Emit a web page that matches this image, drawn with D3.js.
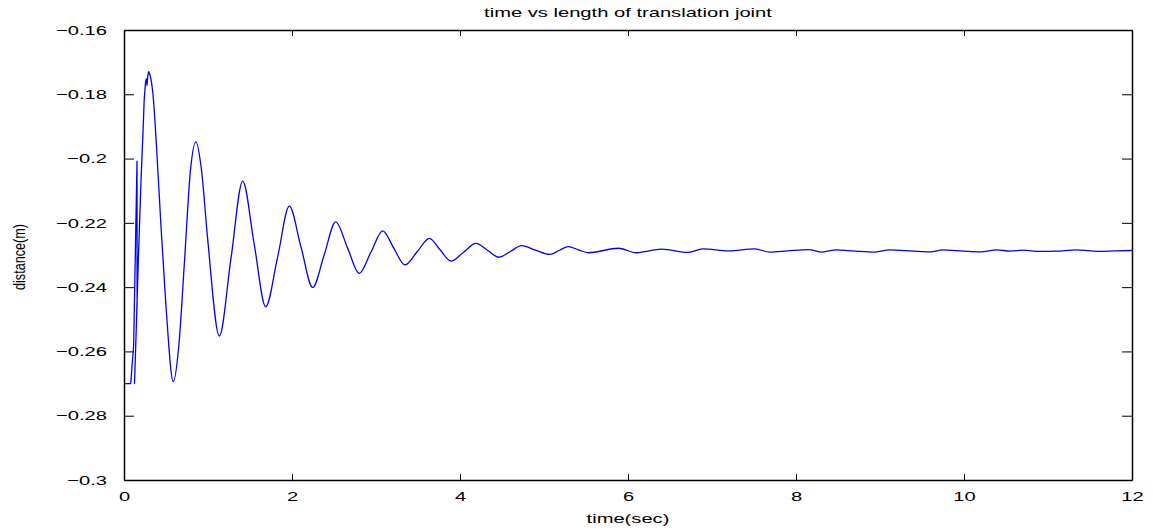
<!DOCTYPE html>
<html><head><meta charset="utf-8">
<script src="https://cdn.jsdelivr.net/npm/d3@7"></script>
<style>body{margin:0;background:#fff}svg{display:block}text{font-family:"Liberation Sans",Arial,sans-serif;fill:#000}</style>
</head><body>
<svg id="c" width="1153" height="529"></svg>
<script>
// --- data ---
const title = "time vs length of translation joint";
const xLabel = "time(sec)";
const yLabel = "distance(m)";
const xTicks = [0, 2, 4, 6, 8, 10, 12];
const yTicks = [-0.3, -0.28, -0.26, -0.24, -0.22, -0.2, -0.18, -0.16];

// start-up transient (drawn with straight segments)
const startTime = [0, 0.08, 0.115, 0.155, 0.156, 0.125, 0.14, 0.17, 0.205, 0.226, 0.24, 0.255, 0.265, 0.274, 0.282, 0.294];
const startDist = [-0.27, -0.27, -0.258, -0.2008, -0.245, -0.27, -0.258, -0.232, -0.205, -0.192, -0.182, -0.1765, -0.1752, -0.1772, -0.1745, -0.1729];

// damped response (smooth)
const respTime = [0.294, 0.315, 0.345, 0.39, 0.44, 0.50, 0.587, 0.65, 0.72, 0.79, 0.857, 0.92, 0.996, 1.135, 1.274, 1.413, 1.55, 1.687, 1.83, 1.968, 2.107, 2.246, 2.383, 2.52, 2.66, 2.80, 2.94, 3.08, 3.21, 3.345, 3.49, 3.635, 3.76, 3.893, 4.04, 4.19, 4.33, 4.464, 4.6, 4.734, 4.9, 5.07, 5.18, 5.29, 5.41, 5.53, 5.885, 6.10, 6.4, 6.72, 6.89, 7.2, 7.51, 7.69, 7.9, 8.15, 8.31, 8.48, 8.7, 8.94, 9.12, 9.4, 9.6, 9.75, 10.0, 10.2, 10.39, 10.55, 10.7, 10.9, 11.1, 11.34, 11.6, 11.8, 12];
const respDist = [-0.1729, -0.1745, -0.1800, -0.1975, -0.221, -0.2460, -0.2694, -0.259, -0.232, -0.204, -0.1948, -0.203, -0.225, -0.2552, -0.231, -0.2070, -0.2266, -0.2461, -0.2305, -0.2148, -0.2275, -0.2401, -0.2300, -0.2197, -0.2277, -0.2357, -0.2291, -0.2225, -0.2278, -0.2331, -0.2290, -0.2248, -0.2283, -0.2319, -0.2292, -0.2264, -0.2286, -0.2307, -0.2289, -0.2271, -0.2285, -0.2298, -0.2286, -0.2274, -0.2284, -0.2293, -0.2279, -0.2293, -0.2282, -0.2292, -0.2281, -0.2287, -0.2281, -0.2291, -0.2287, -0.2283, -0.2291, -0.2284, -0.2288, -0.2291, -0.2284, -0.2288, -0.2290, -0.2284, -0.2288, -0.2290, -0.2284, -0.2288, -0.2285, -0.2289, -0.2288, -0.2284, -0.2289, -0.2287, -0.2286];

// --- layout ---
const L = 124, R = 1132, T = 30, B = 480;
const STRETCH = 1.55;
const svg = d3.select("#c");
const x = d3.scaleLinear().domain([0, 12]).range([L, R]);
const y = d3.scaleLinear().domain([-0.3, -0.16]).range([B, T]);
const fmtY = d => String(+d.toFixed(2)).replace("-", "\u2212");

function stretch(sel) {
  sel.each(function () {
    const w = this.getComputedTextLength();
    d3.select(this).attr("textLength", w * STRETCH).attr("lengthAdjust", "spacingAndGlyphs");
  });
}

// data lines
svg.append("clipPath").attr("id", "pc").append("rect")
  .attr("x", L).attr("y", T).attr("width", R - L).attr("height", B - T);
const g = svg.append("g").attr("clip-path", "url(#pc)");
const startPts = startTime.map((t, i) => [t, startDist[i]]);
const respPts = respTime.map((t, i) => [t, respDist[i]]);
g.append("path").datum(startPts)
  .attr("d", d3.line().x(d => x(d[0])).y(d => y(d[1])))
  .attr("fill", "none").attr("stroke", "#0000ff").attr("stroke-width", 1.3).attr("stroke-linejoin", "round");
g.append("path").datum(respPts)
  .attr("d", d3.line().x(d => x(d[0])).y(d => y(d[1])).curve(d3.curveMonotoneX))
  .attr("fill", "none").attr("stroke", "#0000ff").attr("stroke-width", 1.3);

// axes (ticks inward, box)
const axB = svg.append("g").attr("transform", `translate(0,${B})`)
  .call(d3.axisBottom(x).tickValues(xTicks).tickSizeInner(-6).tickSizeOuter(0).tickPadding(12).tickFormat(d3.format("d")));
const axT = svg.append("g").attr("transform", `translate(0,${T})`)
  .call(d3.axisTop(x).tickValues(xTicks).tickSizeInner(-6).tickSizeOuter(0).tickFormat(""));
const axL = svg.append("g").attr("transform", `translate(${L},0)`)
  .call(d3.axisLeft(y).tickValues(yTicks).tickSizeInner(-10).tickSizeOuter(0).tickPadding(17).tickFormat(fmtY));
const axR = svg.append("g").attr("transform", `translate(${R},0)`)
  .call(d3.axisRight(y).tickValues(yTicks).tickSizeInner(-10).tickSizeOuter(0).tickFormat(""));
[axB, axT, axL, axR].forEach(a => {
  a.select(".domain").attr("stroke", "#000").attr("stroke-width", 1.5);
  a.selectAll(".tick line").attr("stroke", "#000").attr("stroke-width", 1);
  a.selectAll("text").attr("font-size", 13).attr("font-family", "Liberation Sans, Arial, sans-serif").attr("fill", "#000");
});
axB.selectAll(".tick text").attr("dy", "0.71em").call(stretch);
axL.selectAll(".tick text").call(stretch);

// titles
svg.append("text").attr("x", (L + R) / 2).attr("y", 17).attr("text-anchor", "middle")
  .attr("font-size", 13).text(title).call(stretch);
svg.append("text").attr("x", (L + R) / 2).attr("y", 523).attr("text-anchor", "middle")
  .attr("font-size", 13).text(xLabel).call(stretch);
svg.append("text").attr("transform", `translate(25,257) rotate(-90)`).attr("text-anchor", "middle")
  .attr("font-size", 16).attr("textLength", 66).attr("lengthAdjust", "spacingAndGlyphs").text(yLabel);
</script>
</body></html>
